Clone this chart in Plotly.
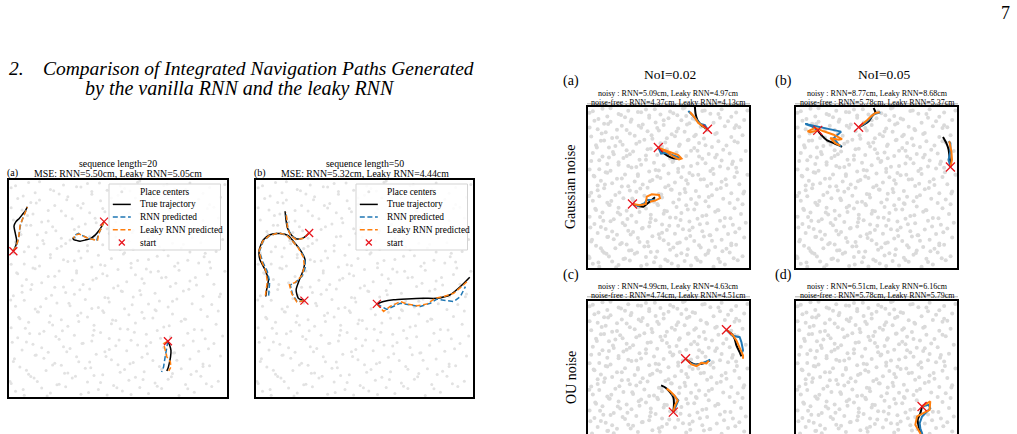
import plotly.graph_objects as go

W, H = 1017, 434
SERIF = "Liberation Serif, Times New Roman, serif"
BLUE, ORANGE, RED = "#1f77b4", "#ff7f0e", "#e8141c"
DOT_LEFT, DOT_RIGHT = "rgb(226,226,226)", "rgb(218,218,218)"

# ---------------- place centers (arena coordinates, percent) ----------------
pc_x = [3,7,15,19,26,33,41,45,52,60,64,70,78,85,93,
        1,10,13,22,29,36,39,48,55,58,67,73,81,88,96,
        5,9,17,24,27,35,43,50,53,62,69,75,79,86,92,
        2,12,16,21,31,37,40,47,57,61,66,72,83,89,97,
        6,11,18,25,28,34,44,49,54,59,71,76,80,87,94,
        4,8,14,23,30,38,42,46,56,63,65,74,82,90,98,
        1,9,16,20,27,32,39,47,51,58,68,71,79,85,95,
        5,13,19,24,33,36,43,49,55,61,66,75,81,91,96,
        3,7,12,22,28,35,41,46,53,64,69,73,84,88,93,
        2,10,17,26,30,37,44,52,57,60,67,77,80,89,97,
        6,8,15,21,29,34,40,48,54,62,70,74,83,86,94,
        4,11,18,23,31,38,45,50,58,63,65,72,78,91,99,
        1,12,14,25,27,33,42,47,56,59,68,76,82,87,92,
        7,9,19,22,32,36,41,51,53,61,71,73,79,90,95,
        3,13,16,24,28,39,43,49,55,64,66,75,84,88,98,
        5,8,17,20,30,35,46,48,57,62,69,77,81,86,93,
        2,11,15,26,29,37,40,52,54,60,67,72,80,89,96,
        6,10,18,21,33,34,44,47,56,63,70,74,85,91,94,
        4,12,14,23,27,38,42,50,58,61,65,78,82,87,97,
        1,9,19,25,31,36,45,51,53,59,71,76,83,92,99,
        0.5,6.5,11.5,17.5,23,30.5,36.5,42,49.5,56,61.5,68,74.5,82,90.5,
        2.5,8,12.5,20,25.5,32,37.5,44.5,51,55.5,63.5,70,77,83.5,89,
        1.5,9.5,15,21.5,26.5,33.5,38.5,46,50.5,57.5,63,69.5,75.5,84.5,91.5,
        4.5,7.5,13.5,18.5,24.5,31.5,39,43.5,47.5,54.5,62,67.5,73.5,80.5,88.5,
        0.8,6,14.5,19.5,27.5,32.5,38,45.5,51.5,56.5,60.5,67,75,82.5,96.5,
        3.5,10.5,12,21,25,31,38.5,43,50,56,61,68.5,76.5,85.5,92.5,
        2,7,13,19,24,30,36,44,52.5,57,64,69,77.5,83,89.5,
        5.5,10,15.5,21.5,26,32,37,45,50.5,56.5,62.5,68,73,80,91,
        1,8.5,12.5,18,24,31.5,39.5,43,49,55,61.5,66,73.5,79,92,
        3,6.5,14,20.5,26.5,33,38,41.5,47,55.5,60,66.5,72.5,81,89]
pc_y = [2.6,0.8,4.1,1.9,4.7,1.3,3.5,0.9,2.8,4.4,1.6,3.9,0.7,2.2,4.8,
        6.2,9.4,7.1,5.6,8.8,6.9,9.9,5.3,7.7,9.1,6.4,8.2,5.8,9.6,7.3,
        13.8,10.5,12.2,14.6,11.1,13.3,10.2,14.9,12.7,11.6,14.1,10.8,13.0,11.9,14.4,
        16.4,19.2,17.8,15.5,18.6,16.1,19.7,17.2,15.9,18.3,16.8,19.5,17.5,15.2,18.9,
        21.7,24.3,20.6,23.1,22.4,24.8,20.9,23.6,21.3,24.0,22.8,20.4,23.9,21.1,24.6,
        27.3,25.4,29.1,26.6,28.5,25.8,29.7,27.0,26.2,28.9,25.1,27.8,29.4,26.9,28.1,
        31.9,34.5,30.3,33.2,32.6,34.8,30.8,33.7,31.4,34.1,30.6,32.3,34.9,31.1,33.5,
        36.1,39.3,37.4,35.6,38.7,36.9,39.8,35.3,37.9,39.0,36.4,38.2,35.8,37.1,39.6,
        41.8,44.6,40.5,43.3,42.1,44.9,41.2,43.8,40.7,42.9,44.2,41.5,43.0,40.3,42.6,
        46.7,49.5,45.4,48.2,47.3,49.8,45.9,48.6,46.1,49.1,47.8,45.2,48.9,46.4,47.5,
        51.3,54.2,52.7,50.6,53.8,51.9,54.7,50.2,53.1,52.4,54.9,50.9,53.5,51.6,52.0,
        56.8,59.4,55.5,58.1,57.2,59.9,55.9,58.7,56.3,59.0,57.6,55.2,58.4,56.5,57.9,
        61.2,64.6,60.4,63.3,62.5,64.1,60.9,63.8,61.6,62.9,64.9,60.2,63.0,61.8,62.2,
        66.9,69.2,65.7,68.4,67.3,69.8,65.3,68.0,66.5,69.5,67.8,65.1,68.7,66.2,67.1,
        71.4,74.8,70.6,73.2,72.3,74.1,70.2,73.7,71.8,72.9,74.5,70.8,73.4,71.1,72.6,
        76.3,79.1,75.8,78.5,77.2,79.7,75.4,78.0,76.7,79.4,77.6,75.2,78.8,76.1,77.9,
        81.6,84.3,80.7,83.5,82.2,84.9,80.3,83.1,81.9,84.6,82.8,80.5,83.8,81.3,82.5,
        86.2,89.6,85.9,88.3,87.1,89.2,85.4,88.8,86.6,89.9,87.7,85.6,88.0,86.9,87.4,
        91.5,94.1,90.8,93.6,92.3,94.7,90.4,93.0,91.7,94.4,92.8,90.2,93.3,91.1,92.0,
        96.4,98.9,95.6,97.7,96.9,98.4,95.3,97.2,96.1,99.0,97.5,95.8,98.6,96.6,97.9,
        7.2,3.4,8.8,0.5,5.9,9.6,2.1,6.7,4.3,1.2,8.1,5.0,9.3,3.8,6.1,
        17.6,12.3,19.4,14.8,10.9,16.2,13.5,18.7,11.4,15.3,19.9,12.8,16.9,10.4,14.1,
        25.2,29.3,22.7,27.9,20.8,24.6,28.4,21.9,26.3,29.8,23.5,27.1,20.3,25.8,22.2,
        36.8,31.7,39.2,34.4,30.5,37.6,33.1,38.9,35.5,31.2,36.3,39.7,32.8,35.9,30.9,
        44.7,48.3,41.6,46.9,43.2,49.4,40.8,45.6,48.8,42.5,47.1,40.2,44.1,49.7,46.2,
        57.3,51.8,59.1,55.6,50.7,58.2,53.9,56.8,51.3,59.6,54.5,57.9,52.4,55.1,59.4,
        66.4,61.3,68.7,64.2,69.5,62.8,67.3,60.6,65.9,68.1,63.4,69.2,61.7,66.8,64.6,
        74.9,79.2,72.1,76.6,70.7,78.4,73.8,77.5,71.3,75.7,79.6,72.9,76.2,70.4,78.8,
        87.2,83.6,89.4,81.1,85.7,88.3,82.4,86.9,80.6,84.8,89.1,81.9,86.3,83.2,88.7,
        97.3,92.6,99.2,95.1,90.9,96.8,93.4,98.6,91.7,94.9,99.5,92.2,97.8,95.6,93.9]

# ---------------- sequence length = 20 ----------------
seq20_true_x = [[0.020,0.032,0.035,0.029,0.023,0.032,0.047,0.063,0.075,0.084],
                [0.436,0.426,0.412,0.395,0.375,0.349,0.326,0.308,0.296,0.293],
                [0.729,0.737,0.743,0.741,0.735,0.729,0.724]]
seq20_true_y = [[0.672,0.700,0.723,0.754,0.788,0.808,0.823,0.843,0.858,0.877],
                [0.808,0.788,0.766,0.746,0.731,0.723,0.718,0.722,0.726,0.735],
                [0.257,0.238,0.215,0.185,0.154,0.131,0.120]]
seq20_rnn_x = [[0.020,0.038,0.046,0.051,0.060,0.072,0.081],
               [0.436,0.421,0.409,0.403,0.372,0.341,0.319,0.299,0.303],
               [0.729,0.720,0.715,0.709,0.700]]
seq20_rnn_y = [[0.672,0.708,0.746,0.785,0.815,0.846,0.869],
               [0.808,0.777,0.746,0.723,0.729,0.742,0.754,0.745,0.731],
               [0.257,0.215,0.177,0.138,0.115]]
seq20_leaky_x = [[0.020,0.035,0.044,0.047,0.051,0.060,0.069,0.078,0.084],
                 [0.436,0.423,0.412,0.406,0.380,0.354,0.323,0.303,0.296],
                 [0.729,0.709,0.717,0.724,0.740,0.743,0.733]]
seq20_leaky_y = [[0.672,0.700,0.731,0.762,0.792,0.815,0.838,0.862,0.874],
                 [0.808,0.782,0.754,0.720,0.726,0.735,0.751,0.746,0.731],
                 [0.257,0.246,0.215,0.185,0.162,0.138,0.120]]

# ---------------- sequence length = 50 ----------------
seq50_true_x = [[0.245,0.218,0.188,0.165,0.145,0.138,0.134],
                [0.223,0.195,0.185,0.200,0.218,0.226,0.203,0.172,0.149,0.111,0.065,0.034,0.015,0.018,0.042,0.057,0.049,0.045],
                [0.557,0.588,0.634,0.695,0.772,0.834,0.895,0.942,0.985]]
seq50_true_y = [[0.756,0.733,0.728,0.744,0.779,0.818,0.856],
                [0.444,0.455,0.494,0.540,0.586,0.633,0.679,0.718,0.744,0.753,0.748,0.725,0.679,0.633,0.586,0.540,0.494,0.463],
                [0.429,0.440,0.448,0.452,0.455,0.455,0.471,0.509,0.552]]
seq50_rnn_x = [[0.245,0.216,0.187,0.162,0.147,0.142,0.137],
               [0.223,0.190,0.168,0.158,0.183,0.214,0.229,0.222,0.197,0.166,0.140,0.104,0.064,0.033,0.016,0.030,0.052,0.063,0.060,0.058],
               [0.557,0.603,0.665,0.711,0.757,0.803,0.834,0.880,0.911,0.942,0.965]]
seq50_rnn_y = [[0.756,0.731,0.726,0.745,0.777,0.816,0.852],
               [0.444,0.438,0.475,0.517,0.528,0.559,0.602,0.645,0.687,0.722,0.748,0.756,0.744,0.718,0.671,0.625,0.579,0.532,0.486,0.466],
               [0.429,0.404,0.432,0.423,0.417,0.432,0.451,0.444,0.440,0.463,0.509]]
seq50_leaky_x = [[0.245,0.215,0.185,0.160,0.146,0.144,0.139],
                 [0.223,0.188,0.165,0.154,0.180,0.211,0.223,0.218,0.195,0.165,0.138,0.103,0.062,0.031,0.014,0.026,0.046,0.052,0.046,0.043],
                 [0.557,0.588,0.618,0.665,0.695,0.742,0.788,0.826,0.865,0.911,0.957,0.980]]
seq50_leaky_y = [[0.756,0.730,0.725,0.744,0.775,0.815,0.850],
                 [0.444,0.438,0.475,0.517,0.528,0.559,0.602,0.645,0.687,0.722,0.748,0.756,0.744,0.718,0.671,0.625,0.579,0.532,0.486,0.466],
                 [0.429,0.394,0.417,0.440,0.429,0.420,0.429,0.455,0.463,0.478,0.517,0.540]]

# ---------------- Gaussian noise, NoI=0.02 ----------------
g02_true_x = [[0.742,0.705,0.680,0.668,0.664],[0.437,0.462,0.495,0.530,0.565],[0.276,0.313,0.344,0.371,0.396,0.416]]
g02_true_y = [[0.862,0.887,0.918,0.959,1.000],[0.748,0.720,0.697,0.682,0.678],[0.398,0.386,0.381,0.402,0.423,0.439]]
g02_rnn_x = [[0.742,0.726,0.695,0.664,0.623],[0.437,0.454,0.478,0.509,0.551,0.571],[0.276,0.313,0.351,0.365,0.385,0.416]]
g02_rnn_y = [[0.862,0.887,0.897,0.934,0.975],[0.748,0.711,0.715,0.707,0.691,0.685],[0.398,0.386,0.402,0.423,0.423,0.423]]
g02_leaky_x = [[0.742,0.715,0.685,0.660,0.633],[0.437,0.478,0.520,0.561,0.581,0.565,0.530,0.489,0.458],
               [0.276,0.324,0.359,0.365,0.396,0.441,0.447,0.416,0.385]]
g02_leaky_y = [[0.862,0.880,0.901,0.938,0.969],[0.748,0.732,0.715,0.701,0.680,0.674,0.691,0.722,0.736],
               [0.398,0.390,0.398,0.443,0.458,0.454,0.433,0.419,0.412]]

# ---------------- Gaussian noise, NoI=0.05 ----------------
g05_true_x = [[0.135,0.161,0.193,0.234,0.271,0.286],[0.389,0.420,0.451,0.472,0.493,0.482],[0.959,0.954,0.948,0.934,0.913]]
g05_true_y = [[0.855,0.822,0.793,0.776,0.760,0.752],[0.874,0.890,0.911,0.942,0.967,0.994],[0.627,0.683,0.735,0.776,0.814]]
g05_rnn_x = [[0.135,0.099,0.058,0.130,0.213,0.280,0.234,0.265,0.282],[0.389,0.400,0.431,0.458,0.478,0.524],
             [0.959,0.948,0.959,0.959,0.948]]
g05_rnn_y = [[0.855,0.880,0.894,0.880,0.863,0.847,0.807,0.766,0.756],[0.874,0.880,0.901,0.926,0.953,0.967],
             [0.627,0.673,0.725,0.776,0.787]]
g05_leaky_x = [[0.135,0.089,0.072,0.120,0.172,0.234,0.286,0.265,0.213,0.244,0.275],[0.389,0.420,0.445,0.466,0.493,0.520],
               [0.959,0.969,0.965,0.959,0.952]]
g05_leaky_y = [[0.855,0.843,0.849,0.870,0.849,0.828,0.801,0.797,0.807,0.776,0.760],[0.874,0.897,0.921,0.942,0.963,0.967],
               [0.627,0.673,0.725,0.766,0.787]]

# ---------------- OU noise, NoI=0.02 ----------------
ou02_true_x = [[0.860,0.891,0.911,0.922,0.942,0.953],[0.606,0.633,0.664,0.705,0.736,0.757],[0.530,0.534,0.530,0.509,0.482,0.454]]
ou02_true_y = [[0.819,0.794,0.763,0.722,0.680,0.654],[0.639,0.619,0.604,0.608,0.619,0.629],[0.309,0.361,0.402,0.433,0.460,0.474]]
ou02_rnn_x = [[0.860,0.893,0.942,0.953,0.963,0.953],[0.606,0.640,0.670,0.700,0.730,0.760],[0.530,0.551,0.561,0.540,0.520]]
ou02_rnn_y = [[0.819,0.784,0.773,0.742,0.691,0.670],[0.639,0.610,0.600,0.608,0.620,0.633],[0.309,0.361,0.381,0.406,0.423]]
ou02_leaky_x = [[0.860,0.901,0.922,0.942,0.963,0.963],[0.606,0.643,0.674,0.705,0.736,0.750],[0.530,0.540,0.557,0.536,0.509,0.488]]
ou02_leaky_y = [[0.819,0.784,0.753,0.711,0.660,0.639],[0.639,0.604,0.594,0.614,0.610,0.627],[0.309,0.350,0.381,0.412,0.439,0.454]]

# ---------------- OU noise, NoI=0.05 ----------------
ou05_true_x = [[0.783,0.772,0.756,0.762,0.776,0.789,0.797]]
ou05_true_y = [[0.344,0.302,0.261,0.219,0.178,0.116,0.054]]
ou05_rnn_x = [[0.783,0.824,0.834,0.814,0.783,0.768,0.772,0.783,0.793]]
ou05_rnn_y = [[0.344,0.354,0.333,0.313,0.282,0.240,0.209,0.178,0.116]]
ou05_leaky_x = [[0.783,0.814,0.834,0.830,0.793,0.752,0.741,0.762,0.772,0.785]]
ou05_leaky_y = [[0.344,0.364,0.375,0.323,0.302,0.282,0.230,0.199,0.178,0.116]]

# ---------------- texts ----------------
left_titles = [("sequence length=20", "MSE: RNN=5.50cm, Leaky RNN=5.05cm"),
               ("sequence length=50", "MSE: RNN=5.32cm, Leaky RNN=4.44cm")]
right_titles = [("noisy : RNN=5.09cm, Leaky RNN=4.97cm", "noise-free : RNN=4.37cm, Leaky RNN=4.13cm"),
                ("noisy : RNN=8.77cm, Leaky RNN=8.68cm", "noise-free : RNN=5.78cm, Leaky RNN=5.37cm"),
                ("noisy : RNN=4.99cm, Leaky RNN=4.63cm", "noise-free : RNN=4.74cm, Leaky RNN=4.51cm"),
                ("noisy : RNN=6.51cm, Leaky RNN=6.16cm", "noise-free : RNN=5.78cm, Leaky RNN=5.79cm")]
legend_labels = ["Place centers", "True trajectory", "RNN predicted", "Leaky RNN predicted", "start"]

# ---------------- layout helpers (pixel boxes -> paper) ----------------
def px_x(v): return v / W
def px_y(v): return 1 - v / H

boxes = [(9, 180, 227, 397), (256, 180, 473, 397),
         (588, 107, 749, 268), (796, 107, 957, 268),
         (588, 300.5, 749, 462), (796, 300.5, 957, 462)]

panels = [
    (seq20_true_x, seq20_true_y, seq20_rnn_x, seq20_rnn_y, seq20_leaky_x, seq20_leaky_y),
    (seq50_true_x, seq50_true_y, seq50_rnn_x, seq50_rnn_y, seq50_leaky_x, seq50_leaky_y),
    (g02_true_x, g02_true_y, g02_rnn_x, g02_rnn_y, g02_leaky_x, g02_leaky_y),
    (g05_true_x, g05_true_y, g05_rnn_x, g05_rnn_y, g05_leaky_x, g05_leaky_y),
    (ou02_true_x, ou02_true_y, ou02_rnn_x, ou02_rnn_y, ou02_leaky_x, ou02_leaky_y),
    (ou05_true_x, ou05_true_y, ou05_rnn_x, ou05_rnn_y, ou05_leaky_x, ou05_leaky_y),
]

fig = go.Figure()
layout = dict(width=W, height=H, margin=dict(l=0, r=0, t=0, b=0),
              paper_bgcolor="white", plot_bgcolor="white", showlegend=False)

pcx = [v / 100 for v in pc_x]
pcy = [v / 100 for v in pc_y]
LEFT_DASH = "5px,2.6px"

for i, (box, data) in enumerate(zip(boxes, panels)):
    n = i + 1
    xa, ya = ("x" if n == 1 else f"x{n}"), ("y" if n == 1 else f"y{n}")
    left, top, right, bottom = box
    is_left = i < 2
    cut = i >= 4
    lw_box = 1.6 if is_left else 2.2
    visible_bottom = min(bottom, H)
    y_lo = 1 - (visible_bottom - top) / (bottom - top)
    layout["xaxis" if n == 1 else f"xaxis{n}"] = dict(
        domain=[px_x(left), px_x(right)], range=[0, 1], anchor=ya,
        showgrid=False, zeroline=False, showticklabels=False, ticks="",
        showline=True, linecolor="black", linewidth=lw_box,
        mirror=(not cut), side=("top" if cut else "bottom"), fixedrange=True)
    layout["yaxis" if n == 1 else f"yaxis{n}"] = dict(
        domain=[px_y(visible_bottom), px_y(top)], range=[y_lo, 1], anchor=xa,
        showgrid=False, zeroline=False, showticklabels=False, ticks="",
        showline=True, linecolor="black", linewidth=lw_box, mirror=True, fixedrange=True)

    common = dict(xaxis=xa, yaxis=ya, hoverinfo="skip")
    fig.add_trace(go.Scatter(x=pcx, y=pcy, mode="markers", name=legend_labels[0],
                             marker=dict(size=3.0 if is_left else 4.0,
                                         color=DOT_LEFT if is_left else DOT_RIGHT), **common))
    tx, ty, rx, ry, lx, ly = data
    lw = 1.5 if is_left else 2.0
    dash = LEFT_DASH if is_left else "solid"
    for k in range(len(tx)):
        fig.add_trace(go.Scatter(x=tx[k], y=ty[k], mode="lines", name=legend_labels[1],
                                 line=dict(color="black", width=lw, shape="spline", smoothing=0.6), **common))
        fig.add_trace(go.Scatter(x=rx[k], y=ry[k], mode="lines", name=legend_labels[2],
                                 line=dict(color=BLUE, width=lw, dash=dash), **common))
        fig.add_trace(go.Scatter(x=lx[k], y=ly[k], mode="lines", name=legend_labels[3],
                                 line=dict(color=ORANGE, width=lw, dash=dash), **common))
    fig.add_trace(go.Scatter(x=[t[0] for t in tx], y=[t[0] for t in ty], mode="markers",
                             name=legend_labels[4],
                             marker=dict(symbol="x-thin", size=8 if is_left else 9,
                                         line=dict(color=RED, width=1.3), color=RED),
                             cliponaxis=False, **common))

# ---------------- annotations & hand-drawn legends ----------------
anns, shapes = [], []
def ann(text, x, y, size, xanchor="center", yanchor="middle", **kw):
    anns.append(dict(text=text, x=px_x(x), y=px_y(y), xref="paper", yref="paper",
                     xanchor=xanchor, yanchor=yanchor, showarrow=False,
                     font=dict(family=SERIF, size=size, color="black"), **kw))

def pline(x0, y0, x1, y1, color, width, dash="solid"):
    shapes.append(dict(type="line", xref="paper", yref="paper",
                       x0=px_x(x0), y0=px_y(y0), x1=px_x(x1), y1=px_y(y1),
                       line=dict(color=color, width=width, dash=dash)))

def legend_box(x0, y0, x1, y1):
    shapes.append(dict(type="rect", xref="paper", yref="paper",
                       x0=px_x(x0), y0=px_y(y1), x1=px_x(x1), y1=px_y(y0),
                       line=dict(color="#d3d3d3", width=1), fillcolor="rgba(255,255,255,0.85)"))
    rows = [y0 + 7.7 + 12.7 * j for j in range(5)]
    sx0, sx1, tx0 = x0 + 3.8, x0 + 21.8, x0 + 28.8
    cx = (sx0 + sx1) / 2
    shapes.append(dict(type="circle", xref="paper", yref="paper",
                       x0=px_x(cx - 1.5), x1=px_x(cx + 1.5), y0=px_y(rows[0] + 1.5), y1=px_y(rows[0] - 1.5),
                       line=dict(width=0), fillcolor=DOT_LEFT))
    pline(sx0, rows[1], sx1, rows[1], "black", 1.5)
    pline(sx0, rows[2], sx1, rows[2], BLUE, 1.5, LEFT_DASH)
    pline(sx0, rows[3], sx1, rows[3], ORANGE, 1.5, LEFT_DASH)
    pline(cx - 3, rows[4] - 3, cx + 3, rows[4] + 3, RED, 1.2)
    pline(cx - 3, rows[4] + 3, cx + 3, rows[4] - 3, RED, 1.2)
    for j, lab in enumerate(legend_labels):
        ann(lab, tx0, rows[j], 9.4, xanchor="left")

legend_box(109, 184, 220.5, 250)
legend_box(356, 184, 467.5, 250)

ann("7", 1005, 13, 18)
ann("<i>2.</i>", 7, 68, 19.5, xanchor="left")
ann("<i>Comparison of Integrated Navigation Paths Generated</i>", 258.5, 68, 19.5)
ann("<i>by the vanilla RNN and the leaky RNN</i>", 240, 88, 20)

for (l1, l2), cx in zip(left_titles, [118, 365]):
    ann(l1, cx, 163, 9.8)
    ann(l2, cx, 173.5, 9.8)
ann("(a)", 12, 172.5, 10)
ann("(b)", 260, 172.5, 10)

ann("NoI=0.02", 670, 74, 13.5)
ann("NoI=0.05", 884, 74, 13.5)
ann("(a)", 571, 81, 14)
ann("(b)", 783, 81, 14)
ann("(c)", 571, 275, 14)
ann("(d)", 783, 275, 14)
for (l1, l2), (cx, cy), (bx0, bx1) in zip(right_titles,
                                          [(668, 93.5), (877, 93.5), (668, 286.5), (877, 286.5)],
                                          [(587, 750), (795, 958), (587, 750), (795, 958)]):
    ann(l1, cx, cy, 8.0)
    ann(l2, cx, cy + 8.8, 8.0)
    pline(bx0, cy + 10.3, bx1, cy + 10.3, "#9a9a9a", 0.8)
ann("Gaussian noise", 571, 187, 14, textangle=-90)
ann("OU noise", 571, 378, 14, textangle=-90)

layout["annotations"] = anns
layout["shapes"] = shapes
fig.update_layout(**layout)
fig.write_html("out.html")
